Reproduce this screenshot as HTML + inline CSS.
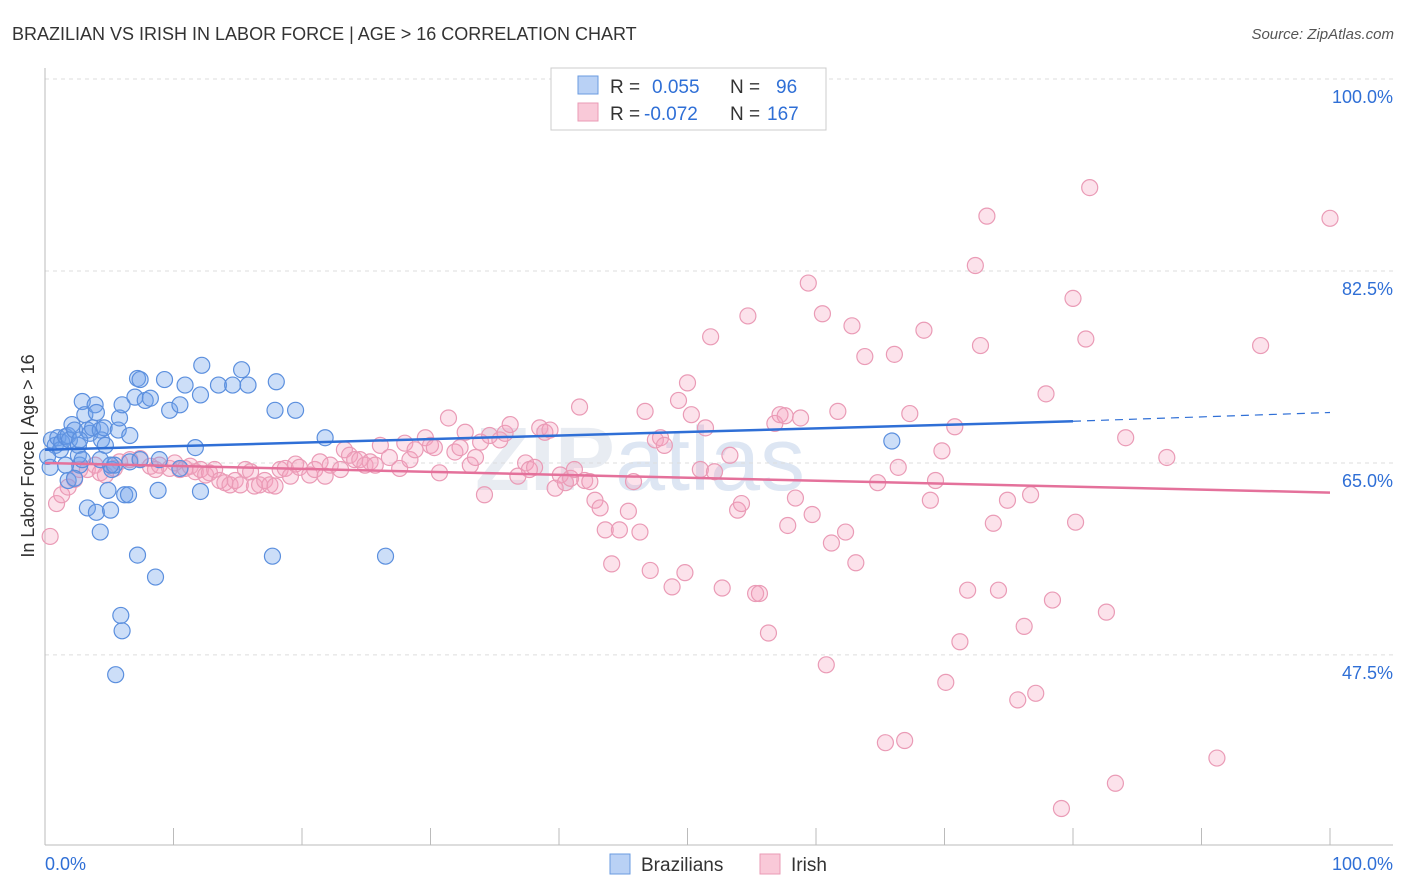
<!DOCTYPE html>
<html><head><meta charset="utf-8">
<style>
body{margin:0;background:#fff;font-family:"Liberation Sans",sans-serif;}
svg{display:block}
</style></head>
<body>
<svg id="chart" width="1406" height="892">
<text x="12" y="40" font-size="18" fill="#333">BRAZILIAN VS IRISH IN LABOR FORCE | AGE &gt; 16 CORRELATION CHART</text>
<text x="1394" y="39" font-size="15" fill="#555" font-style="italic" text-anchor="end">Source: ZipAtlas.com</text>
<text x="640" y="490" font-size="90" fill="#e8ecf2" font-weight="bold" text-anchor="middle">ZIP<tspan fill="#dde6f3" font-weight="normal">atlas</tspan></text>
<g id="grid"></g>
<g id="axes"></g>
<g id="marks"></g>
<text transform="translate(34,456) rotate(-90)" font-size="18" fill="#333" text-anchor="middle">In Labor Force | Age &gt; 16</text>
<g>
<rect x="551" y="68" width="275" height="62" fill="#fff" stroke="#ccc"/>
<rect x="578" y="76" width="20" height="18" fill="#b9d1f5" stroke="#6a9be0"/>
<rect x="578" y="103" width="20" height="18" fill="#f9c9d8" stroke="#ea9bb6"/>
<text x="610" y="93" font-size="19" fill="#333">R = <tspan fill="#2f6fd6" x="652">0.055</tspan><tspan x="730" fill="#333">N = </tspan><tspan x="776" fill="#2f6fd6">96</tspan></text>
<text x="610" y="120" font-size="19" fill="#333">R = <tspan fill="#2f6fd6" x="644">-0.072</tspan><tspan x="730" fill="#333">N = </tspan><tspan x="767" fill="#2f6fd6">167</tspan></text>
</g>
<g>
<rect x="610" y="854" width="20" height="20" fill="#b9d1f5" stroke="#6a9be0"/>
<text x="641" y="871" font-size="19" fill="#333">Brazilians</text>
<rect x="760" y="854" width="20" height="20" fill="#f9c9d8" stroke="#ea9bb6"/>
<text x="791" y="871" font-size="19" fill="#333">Irish</text>
</g>
</svg>
<script>
const yTicks=[100,82.5,65,47.5];
const yTickLabels=["100.0%","82.5%","65.0%","47.5%"];
const xTickLabels=["0.0%","100.0%"];
const bx=[0.4,0.5,0.8,1.0,1.2,1.3,1.6,1.8,1.9,2.1,2.3,2.6,2.7,2.9,3.1,3.3,3.5,3.7,3.9,4.0,4.3,4.4,4.6,4.7,1.6,2.6,2.9,3.3,4.0,4.3,4.9,5.1,5.2,5.4,5.7,5.8,6.0,6.2,6.5,6.6,7.0,7.2,7.4,7.8,8.2,8.8,8.9,9.3,9.7,10.5,10.9,11.7,12.1,12.1,12.2,13.5,14.6,15.3,15.8,17.9,18.0,19.5,21.8,7.2,8.6,5.9,6.0,5.5,17.7,26.5,65.9,5.1,6.6,7.4,10.5,1.8,2.3,4.3,0.2,2.7];
const by=[64.6,67.1,66.6,67.3,66.2,66.9,67.4,67.5,67.1,68.5,68.0,66.6,64.8,70.6,69.4,68.0,67.7,68.2,70.3,69.6,68.0,67.1,68.2,66.6,64.8,65.7,65.3,60.9,60.5,58.7,62.5,60.7,64.4,64.8,68.0,69.1,70.3,62.1,62.1,67.5,71.0,72.7,72.6,70.7,70.9,62.5,65.3,72.6,69.8,70.3,72.1,66.4,62.4,71.2,73.9,72.1,72.1,73.5,72.1,69.8,72.4,69.8,67.3,56.6,54.6,51.1,49.7,45.7,56.5,56.5,67.0,64.8,65.1,65.3,64.5,63.4,63.6,65.3,65.6,67.1];
const px=[0.4,0.9,1.3,1.8,2.3,2.7,3.3,3.9,4.3,4.7,5.4,5.8,6.6,7.4,8.2,8.6,8.9,9.7,10.1,10.5,10.9,11.3,11.7,12.1,12.5,12.8,13.2,13.6,14.0,14.4,14.8,15.2,15.6,16.0,16.3,16.7,17.1,17.5,17.9,18.3,18.7,19.1,19.5,19.8,20.6,21.0,21.4,21.8,22.2,23.0,23.3,23.7,24.1,24.5,24.9,25.3,25.7,26.1,26.8,27.6,28.0,28.4,28.8,29.6,30.0,30.3,30.7,31.4,31.9,32.3,32.7,33.1,33.5,33.9,34.2,34.6,35.4,35.8,36.2,36.8,37.4,37.7,38.1,38.5,38.9,39.3,39.7,40.1,40.5,40.9,41.2,41.6,42.0,42.4,42.8,43.2,43.6,44.1,44.7,45.4,45.8,46.3,46.7,47.1,47.5,47.9,48.2,48.8,49.3,49.8,50.0,50.3,51.0,51.4,51.8,52.1,52.7,53.3,53.9,54.2,54.7,55.3,55.6,56.3,56.8,57.2,57.6,57.8,58.4,58.8,59.4,59.7,60.5,60.8,61.2,61.7,62.3,62.8,63.1,63.8,64.8,65.4,66.1,66.4,66.9,67.3,68.4,68.9,69.3,69.8,70.1,70.8,71.2,71.8,72.4,72.8,73.3,73.8,74.2,74.9,75.7,76.2,76.7,77.1,77.9,78.4,79.1,80.0,80.2,81.0,81.3,82.6,83.3,84.1,87.3,91.2,94.6,100];
const py=[58.3,61.3,62.1,62.8,63.5,64.4,64.4,64.8,64.1,63.9,64.5,65.1,65.3,65.4,64.7,64.4,64.8,64.5,65.0,64.4,64.5,64.7,64.2,64.4,63.9,64.1,64.4,63.4,63.2,63.0,63.4,63.0,64.4,64.2,62.9,63.0,63.4,63.0,62.9,64.4,64.5,63.8,64.9,64.6,63.9,64.4,65.1,63.8,64.8,64.4,66.2,65.7,65.3,65.3,64.8,65.1,64.8,66.6,65.5,64.5,66.8,65.3,66.2,67.3,66.6,66.4,64.1,69.1,66.0,66.4,67.8,64.8,65.5,66.9,62.1,67.5,67.1,67.7,68.5,63.8,65.0,64.4,64.6,68.2,67.8,68.0,62.7,63.9,63.2,63.6,64.4,70.1,63.4,63.3,61.6,60.9,58.9,55.8,58.9,60.6,63.3,58.7,69.7,55.2,67.1,67.3,66.6,53.7,70.7,55.0,72.3,69.4,64.4,68.2,76.5,64.2,53.6,65.7,60.7,61.3,78.4,53.1,53.1,49.5,68.6,69.4,69.3,59.3,61.8,69.1,81.4,60.3,78.6,46.6,57.7,69.7,58.7,77.5,55.9,74.7,63.2,39.5,74.9,64.6,39.7,69.5,77.1,61.6,63.4,66.1,45.0,68.3,48.7,53.4,83.0,75.7,87.5,59.5,53.4,61.6,43.4,50.1,62.1,44.0,71.3,52.5,33.5,80.0,59.6,76.3,90.1,51.4,35.8,67.3,65.5,38.1,75.7,87.3];
const blueTrend=[66.2,68.8,69.6];
const blueTrendX=[0,80,100];
const pinkTrend=[65.0,62.3];
const pinkTrendX=[0,100];

const NS="http://www.w3.org/2000/svg";
const X=v=>45+v*12.85;
const Y=v=>79+(100-v)*10.97;
function mk(tag,attrs,parent){const e=document.createElementNS(NS,tag);for(const k in attrs)e.setAttribute(k,attrs[k]);parent.appendChild(e);return e;}
const grid=document.getElementById('grid'),axes=document.getElementById('axes'),marks=document.getElementById('marks');
yTicks.forEach((t,i)=>{
 const l=mk('line',{x1:45,x2:1393,y1:Y(t),y2:Y(t),stroke:'#ddd','stroke-dasharray':'4,4'},grid);
 
 
 const tx=mk('text',{x:1393,y:Y(t)+24,'font-size':18,fill:'#2f6fd6','text-anchor':'end'},grid);
 tx.textContent=yTickLabels[i];
 
 
});
const xa=mk('line',{x1:45,x2:1393,y1:845,y2:845,stroke:'#bbb'},axes);


const ya=mk('line',{x1:45,x2:45,y1:68,y2:845,stroke:'#bbb'},axes);


for(let i=1;i<=10;i++){
 const t=mk('line',{x1:X(i*10),x2:X(i*10),y1:828,y2:845,stroke:'#bbb'},axes);
 
 
}
const xl0=mk('text',{x:45,y:870,'font-size':18,fill:'#2f6fd6'},axes);xl0.textContent=xTickLabels[0];


const xl1=mk('text',{x:1393,y:870,'font-size':18,fill:'#2f6fd6','text-anchor':'end'},axes);xl1.textContent=xTickLabels[1];


px.forEach((v,i)=>{
 const c=mk('circle',{cx:X(v),cy:Y(py[i]),r:8,fill:'rgba(244,160,190,0.3)',stroke:'#ea9bb6','stroke-width':1.2},marks);
 
 
});
bx.forEach((v,i)=>{
 const c=mk('circle',{cx:X(v),cy:Y(by[i]),r:8,fill:'rgba(110,160,235,0.35)',stroke:'#5b8fde','stroke-width':1.2},marks);
 
 
});
const bl=mk('line',{x1:X(blueTrendX[0]),y1:Y(blueTrend[0]),x2:X(blueTrendX[1]),y2:Y(blueTrend[1]),stroke:'#2f6fd6','stroke-width':2.5},marks);


const bd=mk('line',{x1:X(blueTrendX[1]),y1:Y(blueTrend[1]),x2:X(blueTrendX[2]),y2:Y(blueTrend[2]),stroke:'#2f6fd6','stroke-width':1.2,'stroke-dasharray':'8,6'},marks);


const pl=mk('line',{x1:X(pinkTrendX[0]),y1:Y(pinkTrend[0]),x2:X(pinkTrendX[1]),y2:Y(pinkTrend[1]),stroke:'#e4719b','stroke-width':2.5},marks);


</script>
</body></html>
